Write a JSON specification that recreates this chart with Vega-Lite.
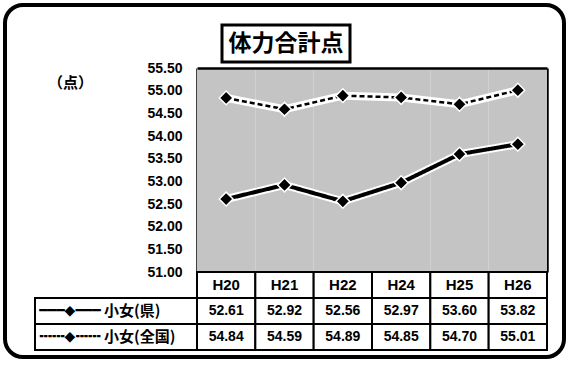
{
  "$schema": "https://vega.github.io/schema/vega-lite/v6.json",
  "width": 559,
  "height": 352,
  "padding": 5,
  "autosize": "none",
  "background": "white",
  "config": {
    "view": {"stroke": "black", "strokeWidth": 4, "cornerRadius": 18, "fill": "white"},
    "font": "Liberation Sans"
  },
  "datasets": {
    "scores": [
      {"year": "H20", "series": "小女(県)", "value": 52.61},
      {"year": "H21", "series": "小女(県)", "value": 52.92},
      {"year": "H22", "series": "小女(県)", "value": 52.56},
      {"year": "H24", "series": "小女(県)", "value": 52.97},
      {"year": "H25", "series": "小女(県)", "value": 53.60},
      {"year": "H26", "series": "小女(県)", "value": 53.82},
      {"year": "H20", "series": "小女(全国)", "value": 54.84},
      {"year": "H21", "series": "小女(全国)", "value": 54.59},
      {"year": "H22", "series": "小女(全国)", "value": 54.89},
      {"year": "H24", "series": "小女(全国)", "value": 54.85},
      {"year": "H25", "series": "小女(全国)", "value": 54.70},
      {"year": "H26", "series": "小女(全国)", "value": 55.01}
    ],
    "years": [
      {"year": "H20"}, {"year": "H21"}, {"year": "H22"},
      {"year": "H24"}, {"year": "H25"}, {"year": "H26"}
    ],
    "title": [{"t": "体力合計点"}]
  },
  "layer": [
    {
      "data": {"name": "years"},
      "mark": {"type": "rect", "fill": "#c4c4c4"},
      "encoding": {
        "x": {
          "field": "year", "type": "nominal", "sort": null,
          "scale": {"domain": ["H20", "H21", "H22", "H24", "H25", "H26"], "range": [192, 542], "paddingInner": 0, "paddingOuter": 0},
          "axis": {"orient": "top", "offset": -63, "labels": false, "ticks": false, "title": null, "grid": false, "domainColor": "black", "domainWidth": 2.5}
        },
        "y": {
          "datum": 51, "type": "quantitative",
          "scale": {"domain": [51, 55.5], "range": [267, 63], "nice": false, "zero": false},
          "axis": {"orient": "right", "offset": -17, "labels": false, "ticks": false, "title": null, "grid": false, "domainColor": "black", "domainWidth": 2.5}
        },
        "y2": {"datum": 55.5}
      }
    },
    {
      "data": {"name": "scores"},
      "encoding": {
        "x": {
          "field": "year", "type": "nominal", "sort": null,
          "scale": {"domain": ["H20", "H21", "H22", "H24", "H25", "H26"], "range": [192, 542], "paddingInner": 0, "paddingOuter": 0},
          "axis": null
        },
        "y": {
          "field": "value", "type": "quantitative",
          "scale": {"domain": [51, 55.5], "range": [267, 63], "nice": false, "zero": false},
          "axis": {
            "orient": "left", "offset": -192,
            "values": [51, 51.5, 52, 52.5, 53, 53.5, 54, 54.5, 55, 55.5],
            "format": ".2f", "grid": false, "ticks": false,
            "domainColor": "black", "domainWidth": 2.5,
            "labelFont": "Liberation Sans", "labelFontWeight": "bold", "labelFontSize": 14,
            "labelColor": "black", "labelPadding": 15,
            "title": "（点）", "titleAngle": 0, "titleX": -127, "titleY": 77,
            "titleFont": "Noto Sans CJK JP", "titleFontSize": 15, "titleFontWeight": "bold",
            "titleColor": "black", "titleAlign": "center", "titleBaseline": "middle"
          }
        },
        "detail": {"field": "series", "type": "nominal"}
      },
      "layer": [
        {"mark": {"type": "line", "stroke": "white", "strokeWidth": 8}},
        {
          "mark": {"type": "line", "stroke": "black"},
          "encoding": {
            "strokeDash": {
              "field": "series", "type": "nominal",
              "scale": {"domain": ["小女(県)", "小女(全国)"], "range": [[1, 0], [5, 3]]},
              "legend": null
            },
            "strokeWidth": {
              "field": "series", "type": "nominal",
              "scale": {"domain": ["小女(県)", "小女(全国)"], "range": [4, 2.5]},
              "legend": null
            }
          }
        },
        {"mark": {"type": "point", "shape": "diamond", "filled": true, "fill": "black", "stroke": "white", "strokeWidth": 1.5, "size": 190, "opacity": 1}}
      ]
    },
    {
      "layer": [
        {
          "data": {"name": "years"},
          "mark": {"type": "rect", "fill": "white", "stroke": "black", "strokeWidth": 2},
          "encoding": {
            "x": {
              "field": "year", "type": "nominal", "sort": null,
              "scale": {"domain": ["H20", "H21", "H22", "H24", "H25", "H26"], "range": [192, 542], "paddingInner": 0, "paddingOuter": 0},
              "axis": null
            },
            "y": {
              "datum": "年", "type": "nominal",
              "scale": {"domain": ["年", "小女(県)", "小女(全国)"], "range": [267, 345], "paddingInner": 0, "paddingOuter": 0},
              "axis": null
            }
          }
        },
        {
          "data": {"name": "years"},
          "mark": {"type": "text", "font": "Liberation Sans", "fontWeight": "bold", "fontSize": 15, "color": "black", "baseline": "middle"},
          "encoding": {
            "x": {"field": "year", "type": "nominal", "sort": null, "axis": null},
            "y": {"datum": "年", "type": "nominal", "axis": null},
            "text": {"field": "year"}
          }
        },
        {
          "data": {"name": "scores"},
          "mark": {"type": "rect", "fill": "white", "stroke": "black", "strokeWidth": 2},
          "encoding": {
            "x": {"field": "year", "type": "nominal", "sort": null, "axis": null},
            "y": {"field": "series", "type": "nominal", "axis": null}
          }
        },
        {
          "data": {"name": "scores"},
          "mark": {"type": "text", "font": "Liberation Sans", "fontWeight": "bold", "fontSize": 14, "color": "black", "baseline": "middle"},
          "encoding": {
            "x": {"field": "year", "type": "nominal", "sort": null, "axis": null},
            "y": {"field": "series", "type": "nominal", "axis": null},
            "text": {"field": "value", "format": ".2f"}
          }
        }
      ]
    },
    {
      "data": {"name": "scores"},
      "transform": [{"filter": "datum.year === 'H20'"}],
      "encoding": {
        "x": {
          "datum": "label", "type": "nominal",
          "scale": {"domain": ["label"], "range": [30, 192], "paddingInner": 0, "paddingOuter": 0},
          "axis": null
        },
        "y": {
          "field": "series", "type": "nominal",
          "scale": {"domain": ["小女(県)", "小女(全国)"], "range": [293, 345], "paddingInner": 0, "paddingOuter": 0},
          "axis": null
        }
      },
      "layer": [
        {"mark": {"type": "rect", "fill": "white", "stroke": "black", "strokeWidth": 2}},
        {
          "mark": {"type": "text", "font": "DejaVu Sans", "fontWeight": "bold", "fontSize": 14, "color": "black", "baseline": "middle", "xOffset": -46},
          "encoding": {
            "text": {
              "condition": {"test": "datum.series === '小女(県)'", "value": "━━━◆━━━"},
              "value": "╍╍╍◆╍╍╍"
            }
          }
        },
        {
          "mark": {"type": "text", "font": "Noto Sans CJK JP", "fontWeight": "bold", "fontSize": 15, "color": "black", "baseline": "middle", "align": "left", "xOffset": -12},
          "encoding": {"text": {"field": "series"}}
        }
      ]
    },
    {
      "data": {"name": "title"},
      "encoding": {
        "x": {
          "field": "t", "type": "nominal",
          "scale": {"range": [217, 345], "paddingInner": 0, "paddingOuter": 0},
          "axis": null
        },
        "y": {
          "field": "t", "type": "nominal",
          "scale": {"range": [20, 57], "paddingInner": 0, "paddingOuter": 0},
          "axis": null
        }
      },
      "layer": [
        {"mark": {"type": "rect", "fill": "white", "stroke": "black", "strokeWidth": 3}},
        {
          "mark": {"type": "text", "font": "Noto Sans CJK JP", "fontWeight": "bold", "fontSize": 23, "color": "black", "baseline": "middle"},
          "encoding": {"text": {"field": "t"}}
        }
      ]
    }
  ],
  "resolve": {
    "scale": {"x": "independent", "y": "independent"},
    "axis": {"x": "independent", "y": "independent"}
  }
}
